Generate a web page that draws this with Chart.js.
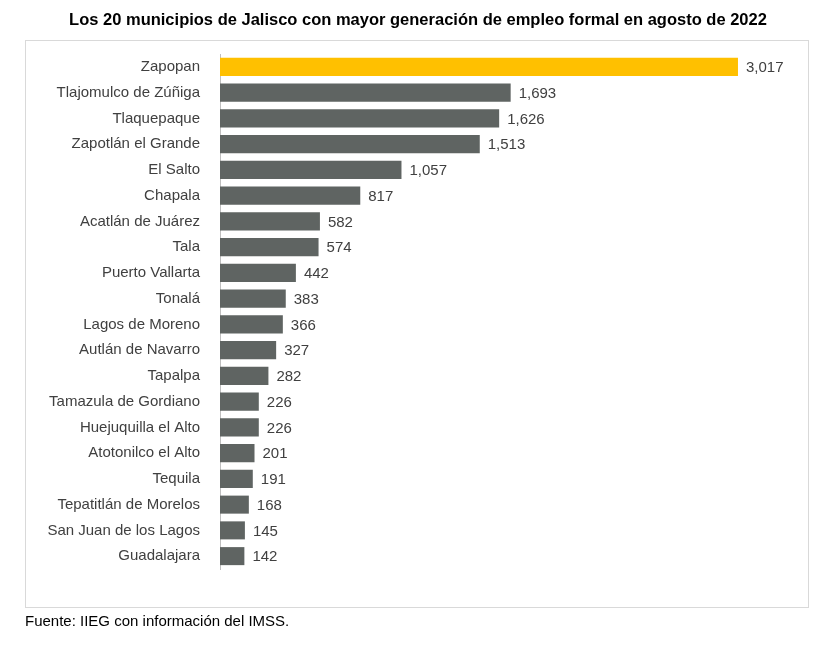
<!DOCTYPE html>
<html><head><meta charset="utf-8">
<script src="https://cdn.jsdelivr.net/npm/chart.js@4"></script>
<style>html,body{margin:0;padding:0;background:#fff}#w{width:837px;height:658px;position:relative}</style>
</head><body><div id="w"><canvas id="c"></canvas></div>
<script>
const title = "Los 20 municipios de Jalisco con mayor generación de empleo formal en agosto de 2022";
const source = "Fuente: IIEG con información del IMSS.";
const categories = ["Zapopan","Tlajomulco de Zúñiga","Tlaquepaque","Zapotlán el Grande","El Salto","Chapala","Acatlán de Juárez","Tala","Puerto Vallarta","Tonalá","Lagos de Moreno","Autlán de Navarro","Tapalpa","Tamazula de Gordiano","Huejuquilla el Alto","Atotonilco el Alto","Tequila","Tepatitlán de Morelos","San Juan de los Lagos","Guadalajara"];
const values = [3017,1693,1626,1513,1057,817,582,574,442,383,366,327,282,226,226,201,191,168,145,142];
const colors = values.map((v,i)=> i===0 ? "#ffc000" : "#5f6462");
const deco = {
  id:"deco",
  afterDraw(ch){
    const c=ch.ctx; c.save();
    c.strokeStyle="#d9d9d9"; c.lineWidth=1; c.strokeRect(25.5,40.5,783,567);
    c.fillStyle="#000"; c.font="bold 16.5px 'Liberation Sans', Arial"; c.textAlign="center"; c.textBaseline="middle";
    c.fillText(title,418,20);
    c.font="15px 'Liberation Sans', Arial"; c.textAlign="left"; c.fillText(source,25,622);
    const m=ch.getDatasetMeta(0); c.fillStyle="#404040"; c.font="15px 'Liberation Sans', Arial";
    m.data.forEach((b,i)=>{c.fillText(values[i].toLocaleString("en-US"),b.x+8,b.y+1);});
    c.restore();
  }
};
new Chart(document.getElementById("c"),{
  type:"bar",
  data:{labels:categories,datasets:[{data:values,backgroundColor:colors,barPercentage:0.7,categoryPercentage:1}]},
  options:{indexAxis:"y",responsive:true,maintainAspectRatio:false,animation:false,
    layout:{padding:{left:25,top:54,bottom:89,right:47}},
    plugins:{legend:{display:false},tooltip:{enabled:false}},
    scales:{
      x:{display:false,min:0,max:3320},
      y:{afterFit(s){s.width=195;},grid:{display:false},border:{display:true,color:"#bfbfbf"},
        ticks:{color:"#404040",font:{size:15,family:"'Liberation Sans', Arial"},padding:12}}
    }},
  plugins:[deco]
});
</script></body></html>
